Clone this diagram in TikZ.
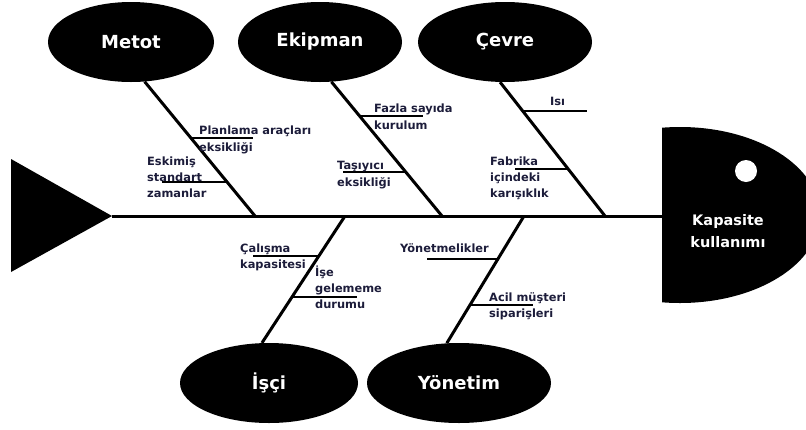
\documentclass[tikz,border=0pt]{standalone}
\usepackage{fontspec}
\setmainfont{DejaVu Sans}
\usetikzlibrary{shapes.geometric}
\definecolor{causeink}{RGB}{28,28,58}

\begin{document}
\begin{tikzpicture}[x=1pt, y=-1pt,
    bone/.style={line width=3pt},
    twig/.style={line width=2pt},
    category/.style={ellipse, fill=black, text=white, inner sep=0pt, minimum height=80pt, font=\bfseries\fontsize{18}{20}\selectfont},
    cause/.style={inner sep=0pt, align=left, anchor=base west, text=causeink, font=\bfseries\fontsize{11.4}{16}\selectfont},
    loose/.style={font=\bfseries\fontsize{11.4}{17.5}\selectfont}
  ]
  \useasboundingbox (0,0) rectangle (806,429);

  % tail and head of the fish
  \fill (11,159) -- (112,216) -- (11,272) -- cycle;
  \begin{scope}
    \clip (662,0) rectangle (806,429);
    \fill (680,215) ellipse [x radius=140, y radius=88];
  \end{scope}
  \fill[white] (746,171) circle [radius=11];
  \node[text=white, align=center, font=\bfseries\fontsize{14.5}{22}\selectfont] (effect) at (728,231) {Kapasite\\kullanımı};

  \coordinate (tail) at (112,216);
  \coordinate (mouth) at (662,216);
  \draw[bone] (tail) -- (mouth);

  % main causes
  \node[category, minimum width=166pt] (metot) at (131,42) {Metot};
  \node[category, minimum width=164pt] (ekipman) at (320,42) {Ekipman};
  \node[category, minimum width=174pt] (cevre) at (505,42) {Çevre};
  \node[category, minimum width=178pt] (isci) at (269,383) {İşçi};
  \node[category, minimum width=184pt] (yonetim) at (459,383) {Yönetim};

  \coordinate (sM) at (255,216);
  \coordinate (sE) at (442,216);
  \coordinate (sC) at (605,216);
  \coordinate (sI) at (345,216);
  \coordinate (sY) at (524,216);

  \draw[bone] (metot.-71) -- (sM);
  \draw[bone] (ekipman.-74) -- (sE);
  \draw[bone] (cevre.-97) -- (sC);
  \draw[bone] (isci.100) -- (sI);
  \draw[bone] (yonetim.107) -- (sY);

  % sub causes (the base of a label is its last line)
  \foreach \n/\a/\b/\y in {plan/190/253/138, eski/227/162/182, fazla/359/423/116, tasi/406/343/172,
      isi/522/587/111, fab/567/515/169, calis/319/253/256, gel/292/357/297, yon/497/427/259, acil/470/533/305}{
    \coordinate (\n-on) at (\a,\y);
    \coordinate (\n-end) at (\b,\y);
    \draw[twig] (\n-on) -- (\n-end);
  }

  \node[cause, loose] (planT) at (199,151.5) {Planlama araçları\\eksikliği};
  \node[cause] (eskiT) at (147,197) {Eskimiş\\standart\\zamanlar};
  \node[cause, loose] (fazlaT) at (374,129.5) {Fazla sayıda\\kurulum};
  \node[cause, loose] (tasiT) at (337,186.5) {Taşıyıcı\\eksikliği};
  \node[cause] (isiT) at (550,105) {Isı};
  \node[cause] (fabT) at (490,197) {Fabrika\\içindeki\\karışıklık};
  \node[cause] (calisT) at (240,268) {Çalışma\\kapasitesi};
  \node[cause] (gelT) at (315,308.5) {İşe\\gelememe\\durumu};
  \node[cause, anchor=base east] (yonT) at (489,252) {Yönetmelikler};
  \node[cause] (acilT) at (489,317) {Acil müşteri\\siparişleri};
\end{tikzpicture}
\end{document}
